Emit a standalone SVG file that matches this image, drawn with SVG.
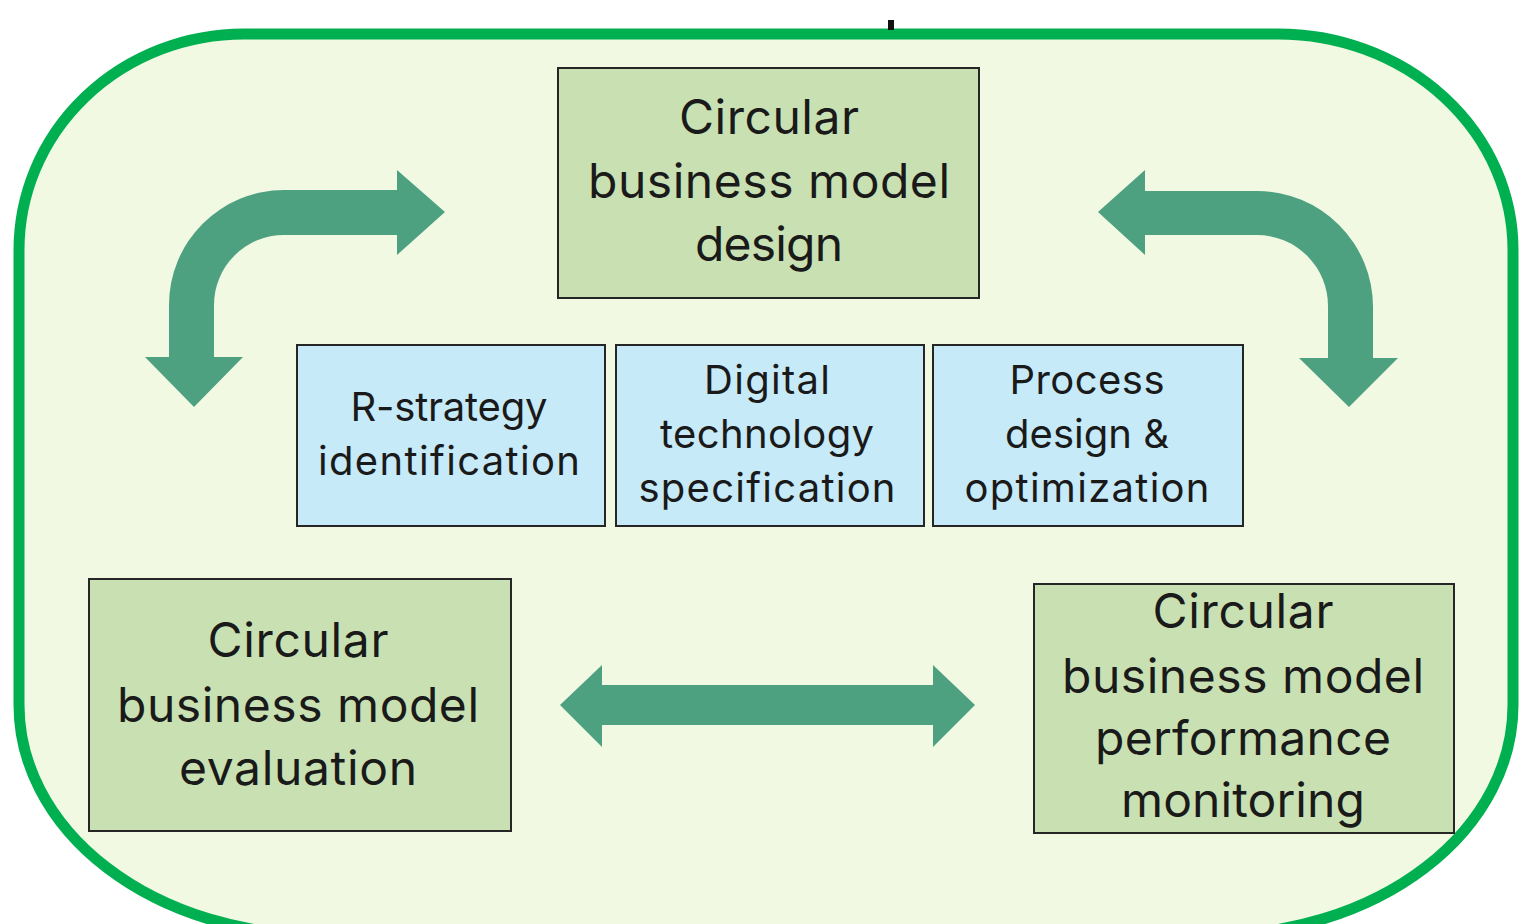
<svg xmlns="http://www.w3.org/2000/svg" width="1519" height="924" viewBox="0 0 1519 924">
<style>
.bg{fill:#F1F9E3;stroke:#00B050;stroke-width:11}
.g{fill:#C9E1B2;stroke:#262626;stroke-width:2}
.b{fill:#C7EAF9;stroke:#262626;stroke-width:2}
.arr{fill:#4EA180}
.tg{font-family:Inter,"Open Sans",sans-serif;font-size:48px;fill:#1a1a1a;text-anchor:middle}
.tb{font-family:Inter,"Open Sans",sans-serif;font-size:40px;fill:#1a1a1a;text-anchor:middle}
</style>
<rect x="0" y="0" width="1519" height="924" fill="#ffffff"/>
<path class="bg" d="M244,34 H1278 A235,216 0 0 1 1513,250 V705 A300,230 0 0 1 1213,935 H319 A300,230 0 0 1 19,705 V250 A225,216 0 0 1 244,34 Z"/>
<rect x="888" y="20" width="6" height="10" fill="#111"/>
<g id="connectors">
<path class="arr" d="M445,212 L397,170 L397,190 L284,190 A115,115 0 0 0 169,305 L169,357 L145,357 L194,407 L243,357 L214,357 L214,305 A70,70 0 0 1 284,235 L397,235 L397,255 Z"/>
<path class="arr" d="M1098,212 L1145,170 L1145,191 L1257,191 A116,116 0 0 1 1373,307 L1373,358 L1398,358 L1349,407 L1299,358 L1328,358 L1328,307 A71,71 0 0 0 1257,235 L1145,235 L1145,255 Z"/>
<path class="arr" d="M560,705 L602,665 L602,685 L933,685 L933,665 L975,705 L933,747 L933,725 L602,725 L602,747 Z"/>
</g>
<g id="design">
<rect class="g" x="558" y="68" width="421" height="230"/>
<text class="tg" x="769" y="134" textLength="180">Circular</text>
<text class="tg" x="769" y="198" textLength="362">business model</text>
<text class="tg" x="769" y="261" textLength="148">design</text>
</g>
<g id="rstrategy">
<rect class="b" x="297" y="345" width="308" height="181"/>
<text class="tb" x="449" y="421" textLength="197">R-strategy</text>
<text class="tb" x="449" y="475" textLength="262">identification</text>
</g>
<g id="digital">
<rect class="b" x="616" y="345" width="308" height="181"/>
<text class="tb" x="767" y="394" textLength="126">Digital</text>
<text class="tb" x="767" y="448" textLength="214">technology</text>
<text class="tb" x="767" y="502" textLength="257">specification</text>
</g>
<g id="process">
<rect class="b" x="933" y="345" width="310" height="181"/>
<text class="tb" x="1087" y="394" textLength="155">Process</text>
<text class="tb" x="1087" y="448" textLength="164">design &amp;</text>
<text class="tb" x="1087" y="502" textLength="245">optimization</text>
</g>
<g id="evaluation">
<rect class="g" x="89" y="579" width="422" height="252"/>
<text class="tg" x="298" y="657" textLength="181">Circular</text>
<text class="tg" x="298" y="722" textLength="362">business model</text>
<text class="tg" x="298" y="785" textLength="238">evaluation</text>
</g>
<g id="monitoring">
<rect class="g" x="1034" y="584" width="420" height="249"/>
<text class="tg" x="1243" y="628" textLength="181">Circular</text>
<text class="tg" x="1243" y="693" textLength="362">business model</text>
<text class="tg" x="1243" y="755" textLength="296">performance</text>
<text class="tg" x="1243" y="817" textLength="244">monitoring</text>
</g>
</svg>
